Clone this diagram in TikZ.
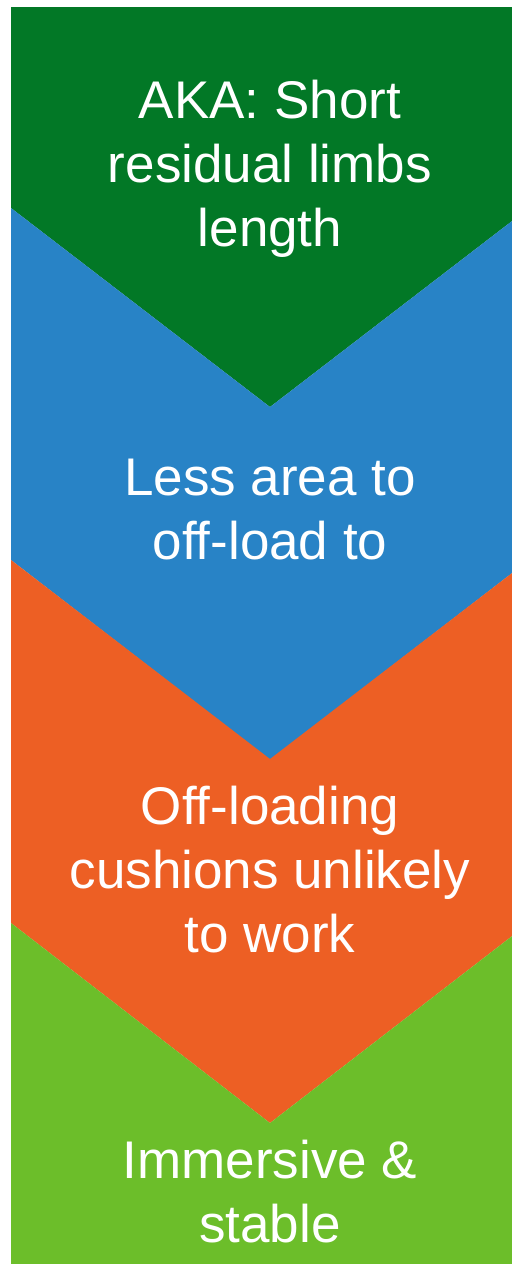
\documentclass[tikz,border=0pt]{standalone}
\usepackage{fontspec}
\setmainfont{Liberation Sans}
\definecolor{darkgreenfill}{RGB}{2,120,38}
\definecolor{bluefill}{RGB}{40,131,198}
\definecolor{orangefill}{RGB}{237,95,36}
\definecolor{lightgreenfill}{RGB}{108,190,42}
\tikzset{
    steplabel/.style={text=white, align=center, anchor=base, inner sep=0pt,
        font=\fontsize{26.5pt}{32pt}\selectfont}
}

\begin{document}
\begin{tikzpicture}[x=0.5pt,y=-0.5pt]
            \useasboundingbox (0,0) rectangle (512,1264);
            \clip (0,0) rectangle (512,1264);
            % chevrons, top one flat, last one open at the bottom
            \fill[darkgreenfill] (11,7) -- (529,7) -- (529,208) -- (270,407) -- (11,208) -- cycle;
            \foreach \c/\t/\b in {bluefill/208/560, orangefill/560/923}
                {
                    \fill[\c] (11,\t) -- (270,\t+199) -- (529,\t) -- (529,\b)
                        -- (270,\b+200) -- (11,\b) -- cycle;
                }
            \fill[lightgreenfill] (11,923) -- (270,1123) -- (529,923) -- (529,1264) -- (11,1264) -- cycle;

            % labels, placed at the baseline of their last line
            \node[steplabel] (aka) at (270,246) {AKA: Short\\residual limbs\\length};
            \node[steplabel] (area) at (270,559) {Less area to\\off-load to};
            \node[steplabel] (cushions) at (270,952) {Off-loading\\cushions unlikely\\to work};
            \node[steplabel] (stable) at (270,1242) {Immersive \&\\stable};
        \end{tikzpicture}
\end{document}
